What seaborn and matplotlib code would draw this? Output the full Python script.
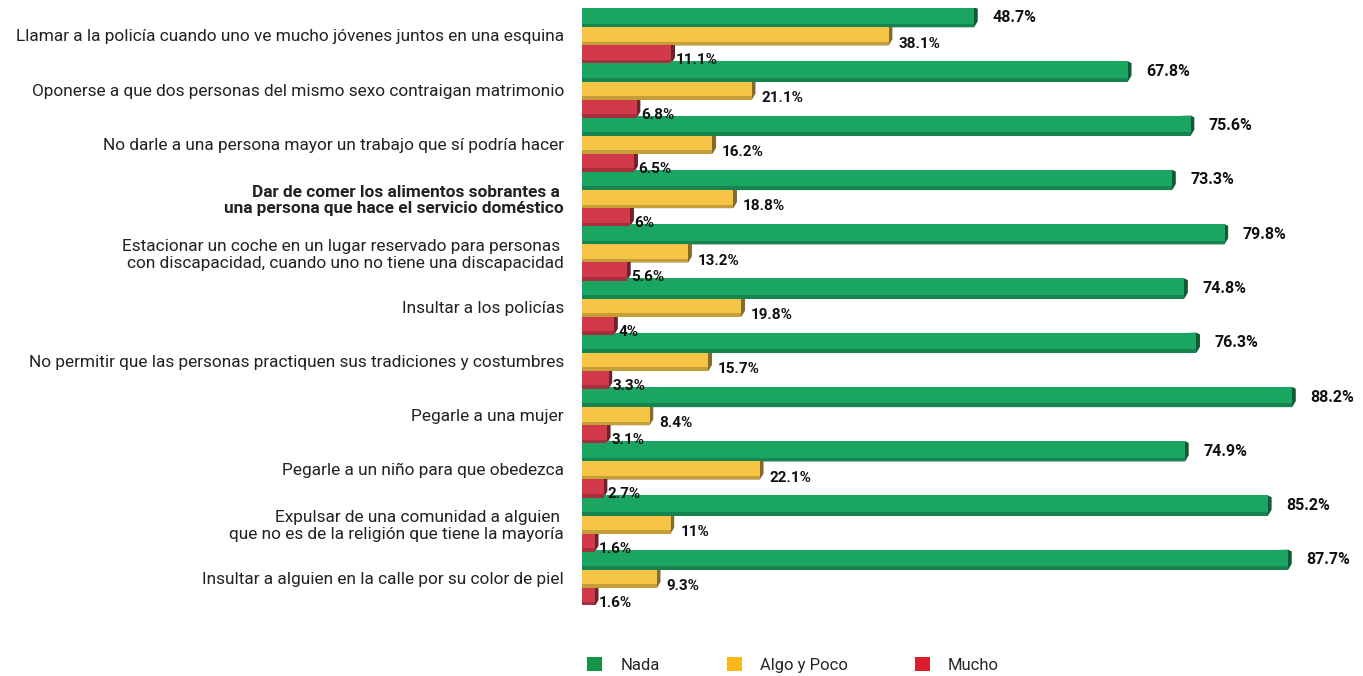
import matplotlib
matplotlib.use("Agg")
import matplotlib.pyplot as plt
from matplotlib.patches import Polygon
from matplotlib.colors import to_rgb
import seaborn as sns
import pandas as pd

categories = [
    "Llamar a la policía cuando uno ve mucho jóvenes juntos en una esquina",
    "Oponerse a que dos personas del mismo sexo contraigan matrimonio",
    "No darle a una persona mayor un trabajo que sí podría hacer",
    "Dar de comer los alimentos sobrantes a \nuna persona que hace el servicio doméstico",
    "Estacionar un coche en un lugar reservado para personas \ncon discapacidad, cuando uno no tiene una discapacidad",
    "Insultar a los policías",
    "No permitir que las personas practiquen sus tradiciones y costumbres",
    "Pegarle a una mujer",
    "Pegarle a un niño para que obedezca",
    "Expulsar de una comunidad a alguien \nque no es de la religión que tiene la mayoría",
    "Insultar a alguien en la calle por su color de piel",
]
nada = [48.7, 67.8, 75.6, 73.3, 79.8, 74.8, 76.3, 88.2, 74.9, 85.2, 87.7]
algo_poco = [38.1, 21.1, 16.2, 18.8, 13.2, 19.8, 15.7, 8.4, 22.1, 11.0, 9.3]
mucho = [11.1, 6.8, 6.5, 6.0, 5.6, 4.0, 3.3, 3.1, 2.7, 1.6, 1.6]
value_labels_algo = ["38.1%", "21.1%", "16.2%", "18.8%", "13.2%", "19.8%", "15.7%", "8.4%", "22.1%", "11%", "9.3%"]
value_labels_mucho = ["11.1%", "6.8%", "6.5%", "6%", "5.6%", "4%", "3.3%", "3.1%", "2.7%", "1.6%", "1.6%"]
value_labels_nada = [f"{v:.1f}%" for v in nada]
series = ["Nada", "Algo y Poco", "Mucho"]

bar_colors = {"Nada": "#1aa563", "Algo y Poco": "#f6c545", "Mucho": "#d23a4c"}
legend_colors = {"Nada": "#139447", "Algo y Poco": "#fbb918", "Mucho": "#d9202a"}

df = pd.DataFrame({
    "categoria": categories * 3,
    "serie": [series[0]] * len(categories) + [series[1]] * len(categories) + [series[2]] * len(categories),
    "valor": nada + algo_poco + mucho,
})

sns.set_theme(style="white")
plt.rcParams["font.family"] = ["Roboto", "DejaVu Sans"]

fig = plt.figure(figsize=(13.63, 6.76), dpi=100)
ax = fig.add_axes([0.427, 0.105, 0.573, 0.883])

sns.barplot(data=df, y="categoria", x="valor", hue="serie", order=categories,
            hue_order=series, palette=bar_colors, orient="h", width=1.0,
            saturation=1, legend=False, ax=ax)

# darker bevel along the bottom and the slanted right end of each bar
def darker(c, f=0.55):
    r, g, b = to_rgb(c)
    return (r * f, g * f, b * f)

for patch in list(ax.patches):
    x0, y0 = patch.get_x(), patch.get_y()
    w, h = patch.get_width(), patch.get_height()
    # slightly thicker bars so neighbours touch like raised bars
    y0 -= h * 0.06
    h *= 1.12
    patch.set_y(y0)
    patch.set_height(h)
    col = patch.get_facecolor()
    d = h * 0.3
    skew = 0.45
    poly = Polygon([(x0, y0 + h), (x0 + w, y0 + h), (x0 + w + skew, y0 + h - d),
                    (x0 + w + skew, y0 + d * 0.3), (x0 + w, y0)],
                   closed=True, facecolor=darker(col), edgecolor="none",
                   zorder=patch.get_zorder() - 0.1)
    ax.add_patch(poly)
    strip = Polygon([(x0, y0 + h), (x0 + w, y0 + h), (x0 + w, y0 + h * 0.82), (x0, y0 + h * 0.82)],
                    closed=True, facecolor=darker(col, 0.8), edgecolor="none",
                    zorder=patch.get_zorder() + 0.1)
    ax.add_patch(strip)
    patch.set_edgecolor("none")

ax.set_xlim(0, 97.0)
ax.set_ylim(len(categories) - 0.5, -0.5)
ax.set_xlabel("")
ax.set_ylabel("")
ax.set_xticks([])
for s in ax.spines.values():
    s.set_visible(False)

ax.tick_params(axis="y", length=0, pad=13, labelsize=12.4, labelcolor="#222222")
for i, lab in enumerate(ax.get_yticklabels()):
    lab.set_linespacing(1.15)
    if i == 3:
        lab.set_fontweight("bold")

bw = 1.0 / 3
for i in range(len(categories)):
    ax.annotate(value_labels_nada[i], (nada[i], i - bw), xytext=(13, 0), textcoords="offset points",
                ha="left", va="center", fontsize=11.5, fontweight="bold", color="#111111")
    ax.annotate(value_labels_algo[i], (algo_poco[i], i), xytext=(7, -6), textcoords="offset points",
                ha="left", va="center", fontsize=11, fontweight="bold", color="#111111")
    ax.annotate(value_labels_mucho[i], (mucho[i], i + bw), xytext=(3, -5), textcoords="offset points",
                ha="left", va="center", fontsize=11, fontweight="bold", color="#111111")

handles = [plt.Rectangle((0, 0), 1, 1, facecolor=legend_colors[s], edgecolor="none") for s in series]
fig.legend(handles, series, loc="center left", bbox_to_anchor=(0.42, 0.016), ncol=3, frameon=False,
           fontsize=12, handlelength=0.9, handleheight=0.9, handletextpad=1.1, columnspacing=4.0)

fig.savefig("out.png", dpi=100)
